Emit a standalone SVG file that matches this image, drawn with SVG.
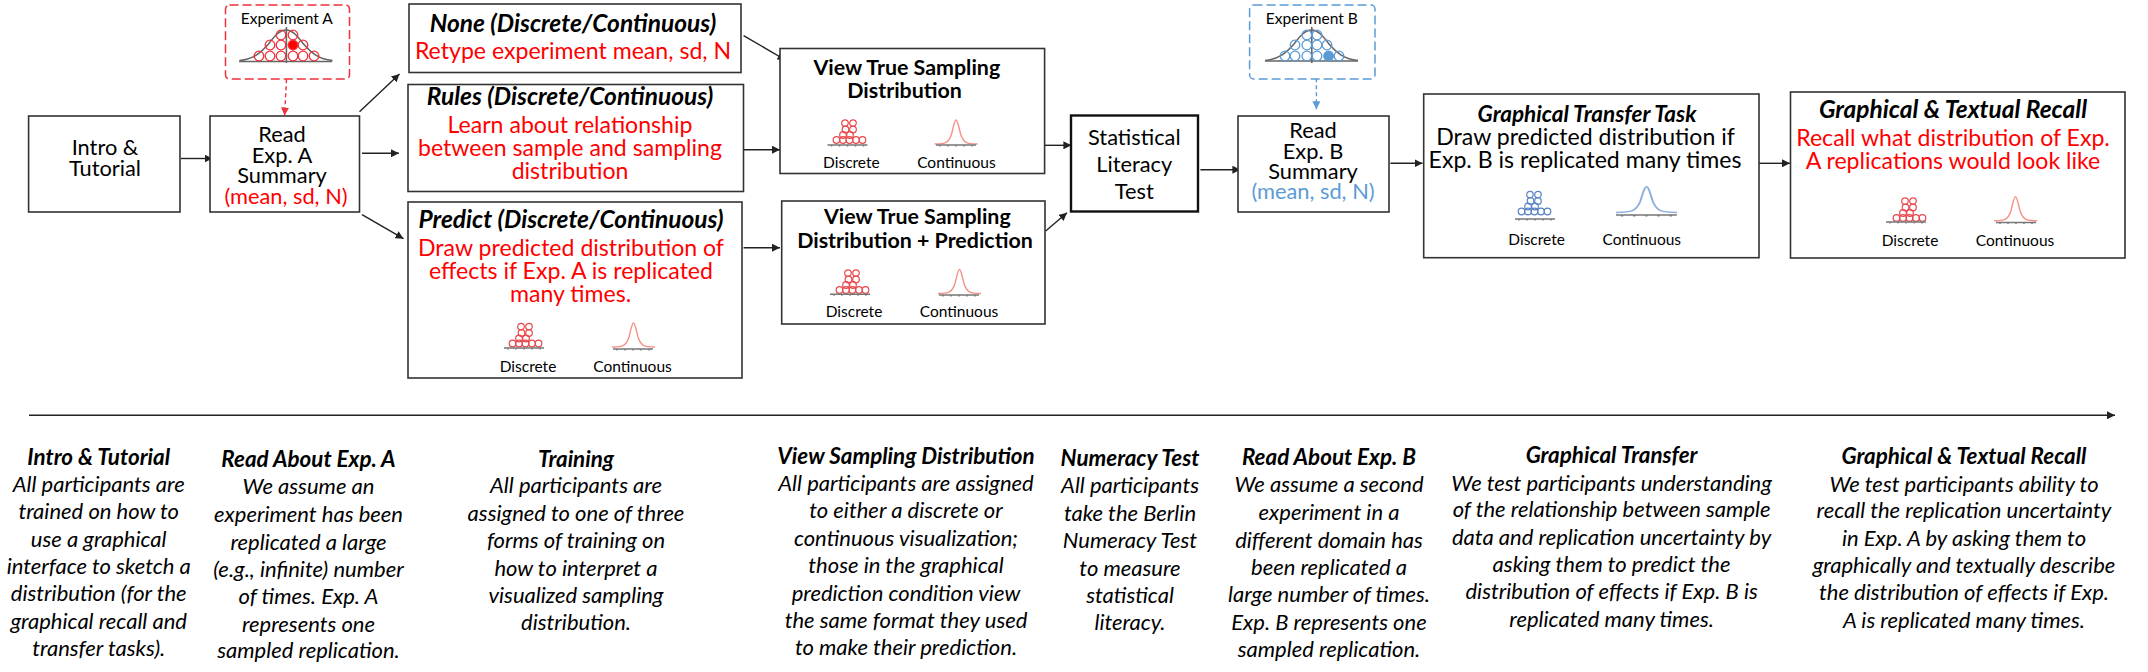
<svg xmlns="http://www.w3.org/2000/svg" xmlns:xlink="http://www.w3.org/1999/xlink" width="2148" height="672" viewBox="0 0 2148 672">
<style>
text{font-family:Lato,"Liberation Sans",sans-serif;text-anchor:middle;fill:#000}
.b{fill:#fff;stroke:#333;stroke-width:1.6}
.m{font-size:23.1px}
.s{font-size:21.8px}
.h{font-size:24.5px;font-weight:700;font-style:italic}
.h2{font-size:22.5px;font-weight:700;font-style:italic}
.vt{font-size:21.4px;font-weight:700}
.red{fill:#f00}
.blue{fill:#5b9bd5}
.l{font-size:15.5px}
.e{font-size:15.5px}
.t{font-size:22px;font-style:italic}
.tt{font-size:22.4px;font-style:italic;font-weight:700}
.c{fill:none;stroke:#222;stroke-width:1.4}
.cr{fill:none;stroke:#f0303a;stroke-width:1.4;stroke-dasharray:4 3}
.cb{fill:none;stroke:#5b9bd5;stroke-width:1.4;stroke-dasharray:4 3}
.ax{fill:none;stroke:#777;stroke-width:1.4}
.dr{fill:none;stroke:#e8484c;stroke-width:1.2}
.db{fill:none;stroke:#5b83c4;stroke-width:1.2}
.cv{fill:none;stroke-width:1.4;vector-effect:non-scaling-stroke}
.bell{fill:none;stroke:#666;stroke-width:1.6}
</style>
<defs>
<marker id="ak" markerUnits="userSpaceOnUse" markerWidth="9" markerHeight="8" refX="8" refY="4" orient="auto"><path d="M0 0L8 4L0 8z" fill="#222"/></marker>
<marker id="ar" markerUnits="userSpaceOnUse" markerWidth="9" markerHeight="8" refX="8" refY="4" orient="auto"><path d="M0 0L8 4L0 8z" fill="#f0303a"/></marker>
<marker id="ab" markerUnits="userSpaceOnUse" markerWidth="9" markerHeight="8" refX="8" refY="4" orient="auto"><path d="M0 0L8 4L0 8z" fill="#5b9bd5"/></marker>
<g id="disc">
<circle cx="12" cy="3.6" r="3.3"/><circle cx="20" cy="3.6" r="3.3"/>
<circle cx="12.5" cy="10" r="3.3"/><circle cx="20" cy="10" r="3.3"/>
<circle cx="10" cy="15.5" r="3.3"/><circle cx="17" cy="15.5" r="3.3"/>
<circle cx="3.5" cy="20.5" r="3.3"/><circle cx="10" cy="20.5" r="3.3"/><circle cx="16.5" cy="20.5" r="3.3"/><circle cx="23" cy="20.5" r="3.3"/><circle cx="29.5" cy="20.5" r="3.3"/>
</g>
<path id="gauss" d="M0 24C11 24 14 23 17 14C19 6 20 0 21.5 0C23 0 24 6 26 14C29 23 32 24 43 24"/>
<path id="bellc" d="M0 30.500C14 29 21 23 29 14C35 6 40 0 46.500 0C53 0 58 6 64 14C72 23 79 29 93 30.500"/>
<path id="axis" d="M0 0H40M4 0v1.500M12 0v1.500M20 0v1.500M28 0v1.500M36 0v1.500"/>
</defs>

<g id="connectors">
<path class="c" marker-end="url(#ak)" d="M181 158.500H212.500"/>
<path class="c" marker-end="url(#ak)" d="M359.500 111.700L399.500 74"/>
<path class="c" marker-end="url(#ak)" d="M362 153.300H399"/>
<path class="c" marker-end="url(#ak)" d="M362 214.700L403.500 238.700"/>
<path class="cr" marker-end="url(#ar)" d="M286.500 79.300L284.600 115.500"/>
<path class="c" marker-end="url(#ak)" d="M743.600 35.700L785.400 60"/>
<path class="c" marker-end="url(#ak)" d="M743.600 149.700H780"/>
<path class="c" marker-end="url(#ak)" d="M743.600 247.700H780"/>
<path class="c" marker-end="url(#ak)" d="M1040.700 145.300H1071.400"/>
<path class="c" marker-end="url(#ak)" d="M1045.700 231L1067 212.700"/>
<path class="c" marker-end="url(#ak)" d="M1200.400 169.700H1240.400"/>
<path class="cb" marker-end="url(#ab)" d="M1316.400 78.300V109.300"/>
<path class="c" marker-end="url(#ak)" d="M1390.400 163.300H1422.500"/>
<path class="c" marker-end="url(#ak)" d="M1759 163.300H1790"/>
<path class="c" marker-end="url(#ak)" d="M29 415.300H2115"/>
</g>

<g id="intro"><rect class="b" x="28.600" y="116" width="151.400" height="96"/>
<text class="s"><tspan x="105" y="155">Intro &amp;</tspan><tspan x="105" y="175.700">Tutorial</tspan></text></g>

<g id="read-a"><rect class="b" x="210" y="116" width="149.500" height="96"/>
<text class="s"><tspan x="282" y="142">Read</tspan><tspan x="282" y="163">Exp. A</tspan><tspan x="282" y="183.300">Summary</tspan><tspan class="red" x="286" y="204">(mean, sd, N)</tspan></text></g>

<g id="exp-a"><rect x="225.500" y="5" width="124" height="74" rx="4" fill="#fff" stroke="#f0303a" stroke-width="1.500" stroke-dasharray="9 4"/>
<text class="e" x="286.800" y="24">Experiment A</text>
<g class="bell"><use xlink:href="#bellc" href="#bellc" x="239.500" y="30"/><path d="M239 61.500H332M286.400 27V63"/></g>
<g fill="none" stroke="#f0303a" stroke-width="1.300"><circle cx="259" cy="56" r="4.800"/><circle cx="270" cy="56" r="4.800"/><circle cx="281" cy="56" r="4.800"/><circle cx="293" cy="56" r="4.800"/><circle cx="303" cy="56" r="4.800"/><circle cx="314" cy="56" r="4.800"/><circle cx="270" cy="45" r="4.800"/><circle cx="281" cy="45" r="4.800"/><circle cx="293" cy="45" r="4.800" fill="#f00"/><circle cx="303" cy="45" r="4.800"/><circle cx="281" cy="35" r="4.800"/><circle cx="293" cy="35" r="4.800"/></g></g>

<g id="none"><rect class="b" x="409" y="4" width="332" height="68.500"/>
<text class="h" x="573" y="32.300">None (Discrete/Continuous)</text>
<text class="m red" x="573" y="59">Retype experiment mean, sd, N</text></g>

<g id="rules"><rect class="b" x="408" y="84.500" width="335.500" height="107"/>
<text class="h" x="570" y="105">Rules (Discrete/Continuous)</text>
<text class="m red"><tspan x="570" y="133">Learn about relationship</tspan><tspan x="570" y="156">between sample and sampling</tspan><tspan x="570" y="179">distribution</tspan></text></g>

<g id="predict"><rect class="b" x="408" y="202" width="334" height="176"/>
<text class="h" x="571" y="227.700">Predict (Discrete/Continuous)</text>
<text class="m red"><tspan x="571" y="256">Draw predicted distribution of</tspan><tspan x="571" y="278.700">effects if Exp. A is replicated</tspan><tspan x="570.500" y="302">many times.</tspan></text>
<use class="dr" xlink:href="#disc" href="#disc" x="509" y="323"/><use class="ax" xlink:href="#axis" href="#axis" x="504" y="348"/>
<use class="cv" stroke="#f59088" xlink:href="#gauss" href="#gauss" x="612" y="323"/><use class="ax" xlink:href="#axis" href="#axis" x="613" y="349"/>
<text class="l" x="528" y="372">Discrete</text><text class="l" x="632.500" y="372">Continuous</text></g>

<g id="view"><rect class="b" x="780" y="48.500" width="264.600" height="125"/>
<text class="vt"><tspan x="906.800" y="75">View True Sampling</tspan><tspan x="904.600" y="97.700">Distribution</tspan></text>
<use class="dr" xlink:href="#disc" href="#disc" x="833" y="119.500"/><use class="ax" xlink:href="#axis" href="#axis" x="827.500" y="145"/>
<use class="cv" stroke="#f59088" xlink:href="#gauss" href="#gauss" x="934.600" y="120"/><use class="ax" xlink:href="#axis" href="#axis" x="936" y="145"/>
<text class="l" x="851.400" y="167.700">Discrete</text><text class="l" x="956.400" y="167.700">Continuous</text></g>

<g id="view-pred"><rect class="b" x="781.700" y="201" width="263.300" height="123"/>
<text class="vt"><tspan x="917.300" y="224.300">View True Sampling</tspan><tspan x="915" y="247.700">Distribution + Prediction</tspan></text>
<use class="dr" xlink:href="#disc" href="#disc" x="836" y="269.500"/><use class="ax" xlink:href="#axis" href="#axis" x="830" y="294.300"/>
<use class="cv" stroke="#f59088" xlink:href="#gauss" href="#gauss" x="938" y="269.500"/><use class="ax" xlink:href="#axis" href="#axis" x="939" y="295"/>
<text class="l" x="854" y="316.700">Discrete</text><text class="l" x="959" y="316.700">Continuous</text></g>

<g id="stat"><rect x="1071" y="115.500" width="127" height="96" fill="#fff" stroke="#111" stroke-width="2.400"/>
<text class="s"><tspan x="1134.300" y="144.700">Statistical</tspan><tspan x="1134.300" y="171.700">Literacy</tspan><tspan x="1134.300" y="198.700">Test</tspan></text></g>

<g id="read-b"><rect class="b" x="1238" y="116" width="151" height="96"/>
<text class="s"><tspan x="1313" y="138">Read</tspan><tspan x="1313" y="158.700">Exp. B</tspan><tspan x="1313" y="179">Summary</tspan><tspan class="blue" x="1313" y="199.300">(mean, sd, N)</tspan></text></g>

<g id="exp-b"><rect x="1249.600" y="5" width="125.400" height="74" rx="4" fill="#fff" stroke="#5b9bd5" stroke-width="1.500" stroke-dasharray="9 4"/>
<text class="e" x="1311.800" y="24">Experiment B</text>
<g class="bell"><use xlink:href="#bellc" href="#bellc" x="1265" y="30"/><path d="M1265 61H1358M1311.800 27V63"/></g>
<g fill="none" stroke="#5b9bd5" stroke-width="1.300"><circle cx="1285" cy="56" r="4.800"/><circle cx="1295" cy="56" r="4.800"/><circle cx="1306.800" cy="56" r="4.800"/><circle cx="1317" cy="56" r="4.800"/><circle cx="1328.600" cy="56" r="4.800" fill="#5b9bd5"/><circle cx="1339" cy="56" r="4.800"/><circle cx="1295" cy="45" r="4.800"/><circle cx="1306.800" cy="45" r="4.800"/><circle cx="1317" cy="45" r="4.800"/><circle cx="1327" cy="45" r="4.800"/><circle cx="1306.800" cy="35" r="4.800"/><circle cx="1317" cy="35" r="4.800"/></g></g>

<g id="transfer"><rect class="b" x="1423.700" y="94" width="335.300" height="163.700"/>
<text class="h2" x="1587" y="121.500">Graphical Transfer Task</text>
<text class="m"><tspan x="1585.500" y="145">Draw predicted distribution if</tspan><tspan x="1585" y="167.700">Exp. B is replicated many times</tspan></text>
<use class="db" xlink:href="#disc" href="#disc" x="1518" y="191"/><use class="ax" xlink:href="#axis" href="#axis" x="1515" y="219"/>
<use class="cv" stroke="#8fafdc" xlink:href="#gauss" href="#gauss" transform="translate(1616 186.700) scale(1.420 1.070)"/><use class="ax" xlink:href="#axis" href="#axis" transform="translate(1616 215) scale(1.520 1)"/>
<text class="l" x="1536.600" y="244.700">Discrete</text><text class="l" x="1641.800" y="244.700">Continuous</text></g>

<g id="recall"><rect class="b" x="1790.500" y="92" width="334.500" height="166"/>
<text class="h" x="1953" y="118">Graphical &amp; Textual Recall</text>
<text class="m red"><tspan x="1953" y="146">Recall what distribution of Exp.</tspan><tspan x="1953" y="169.300">A replications would look like</tspan></text>
<use class="dr" xlink:href="#disc" href="#disc" x="1893" y="197.500"/><use class="ax" xlink:href="#axis" href="#axis" x="1886" y="222"/>
<use class="cv" stroke="#f59088" xlink:href="#gauss" href="#gauss" x="1994" y="196.700"/><use class="ax" xlink:href="#axis" href="#axis" x="1996" y="222.500"/>
<text class="l" x="1910" y="246">Discrete</text><text class="l" x="2015" y="246">Continuous</text></g>

<g id="desc-intro"><text class="tt" x="98.700" y="465.300">Intro &amp; Tutorial</text><text class="t"><tspan x="98.700" y="491.700">All participants are</tspan><tspan x="98.700" y="519.300">trained on how to</tspan><tspan x="98.700" y="547.300">use a graphical</tspan><tspan x="98.700" y="574.300">interface to sketch a</tspan><tspan x="98.700" y="601">distribution (for the</tspan><tspan x="98.700" y="629">graphical recall and</tspan><tspan x="98.700" y="656">transfer tasks).</tspan></text></g>
<g id="desc-read-a"><text class="tt" x="308.500" y="467.300">Read About Exp. A</text><text class="t"><tspan x="308.500" y="494.300">We assume an</tspan><tspan x="308.500" y="522">experiment has been</tspan><tspan x="308.500" y="550">replicated a large</tspan><tspan x="308.500" y="576.700">(e.g., infinite) number</tspan><tspan x="308.500" y="604">of times. Exp. A</tspan><tspan x="308.500" y="631.700">represents one</tspan><tspan x="308.500" y="658.300">sampled replication.</tspan></text></g>
<g id="desc-training"><text class="tt" x="576" y="466.700">Training</text><text class="t"><tspan x="576" y="493.300">All participants are</tspan><tspan x="576" y="521">assigned to one of three</tspan><tspan x="576" y="548">forms of training on</tspan><tspan x="576" y="575.700">how to interpret a</tspan><tspan x="576" y="603">visualized sampling</tspan><tspan x="576" y="630">distribution.</tspan></text></g>
<g id="desc-view"><text class="tt" x="906" y="464">View Sampling Distribution</text><text class="t"><tspan x="906" y="490.700">All participants are assigned</tspan><tspan x="906" y="518.300">to either a discrete or</tspan><tspan x="906" y="545.700">continuous visualization;</tspan><tspan x="906" y="573.300">those in the graphical</tspan><tspan x="906" y="600.700">prediction condition view</tspan><tspan x="906" y="628.300">the same format they used</tspan><tspan x="906" y="655">to make their prediction.</tspan></text></g>
<g id="desc-numeracy"><text class="tt" x="1130" y="466">Numeracy Test</text><text class="t"><tspan x="1130" y="493.300">All participants</tspan><tspan x="1130" y="521">take the Berlin</tspan><tspan x="1130" y="548.300">Numeracy Test</tspan><tspan x="1130" y="576">to measure</tspan><tspan x="1130" y="603.300">statistical</tspan><tspan x="1130" y="630">literacy.</tspan></text></g>
<g id="desc-read-b"><text class="tt" x="1329" y="465.300">Read About Exp. B</text><text class="t"><tspan x="1329" y="492.300">We assume a second</tspan><tspan x="1329" y="520">experiment in a</tspan><tspan x="1329" y="547.700">different domain has</tspan><tspan x="1329" y="575">been replicated a</tspan><tspan x="1329" y="602.300">large number of times.</tspan><tspan x="1329" y="630">Exp. B represents one</tspan><tspan x="1329" y="656.700">sampled replication.</tspan></text></g>
<g id="desc-transfer"><text class="tt" x="1611.600" y="463.300">Graphical Transfer</text><text class="t"><tspan x="1611.600" y="490.700">We test participants understanding</tspan><tspan x="1611.600" y="517.300">of the relationship between sample</tspan><tspan x="1611.600" y="545">data and replication uncertainty by</tspan><tspan x="1611.600" y="572.300">asking them to predict the</tspan><tspan x="1611.600" y="599.300">distribution of effects if Exp. B is</tspan><tspan x="1611.600" y="626.700">replicated many times.</tspan></text></g>
<g id="desc-recall"><text class="tt" x="1964" y="464">Graphical &amp; Textual Recall</text><text class="t"><tspan x="1964" y="491.700">We test participants ability to</tspan><tspan x="1964" y="518.300">recall the replication uncertainty</tspan><tspan x="1964" y="546">in Exp. A by asking them to</tspan><tspan x="1964" y="573.300">graphically and textually describe</tspan><tspan x="1964" y="600">the distribution of effects if Exp.</tspan><tspan x="1964" y="627.700">A is replicated many times.</tspan></text></g>
</svg>
